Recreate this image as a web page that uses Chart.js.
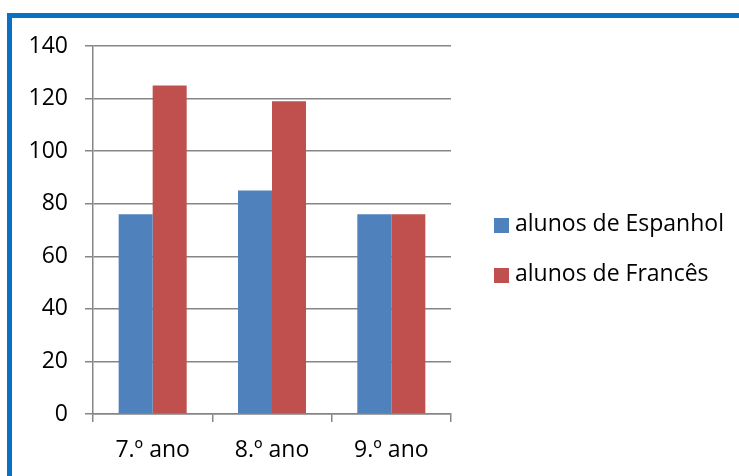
<!DOCTYPE html>
<html>
<head>
<meta charset="utf-8">
<script src="https://cdn.jsdelivr.net/npm/chart.js@4.4.1/dist/chart.umd.min.js"></script>
<style>
  html, body { margin: 0; padding: 0; background: #fff; overflow: hidden; }
  #wrap { position: relative; width: 739px; height: 476px; }
  #frame { position: absolute; left: 7px; top: 13px; width: 800px; height: 600px;
           border: 5px solid #0A70C4; box-sizing: border-box; }
  canvas { position: absolute; left: 0; top: 0; }
</style>
</head>
<body>
<div id="wrap">
  <div id="frame"></div>
  <canvas id="chart" width="739" height="476"></canvas>
</div>
<script>
const categories = ['7.º ano', '8.º ano', '9.º ano'];
const espanhol = [76, 85, 76];
const frances = [125, 119, 76];
const seriesNames = ['alunos de Espanhol', 'alunos de Francês'];
const yTicks = [0, 20, 40, 60, 80, 100, 120, 140];

const FONT = "'Open Sans', 'Liberation Sans', sans-serif";
const BLUE = '#4F81BD';
const RED = '#C0504D';
const GRID = '#868686';

// Legend drawn at the right side of the plot
const sideLegend = {
  id: 'sideLegend',
  afterDraw(chart) {
    const ctx = chart.ctx;
    const rows = [225, 275];
    ctx.save();
    ctx.font = '23px ' + FONT;
    ctx.textBaseline = 'middle';
    ctx.textAlign = 'left';
    chart.data.datasets.forEach((ds, i) => {
      const y = rows[i];
      ctx.fillStyle = ds.backgroundColor;
      ctx.fillRect(494, y - 7, 15, 15);
      ctx.fillStyle = '#000';
      ctx.fillText(ds.label, 515, y - 1);
    });
    ctx.restore();
  }
};

new Chart(document.getElementById('chart'), {
  type: 'bar',
  data: {
    labels: categories,
    datasets: [
      { label: seriesNames[0], data: espanhol, backgroundColor: BLUE, borderWidth: 0 },
      { label: seriesNames[1], data: frances, backgroundColor: RED, borderWidth: 0 }
    ]
  },
  options: {
    responsive: false,
    animation: false,
    events: [],
    layout: { padding: { top: 46, right: 288, left: 0, bottom: 0 } },
    datasets: { bar: { categoryPercentage: 0.57, barPercentage: 1.0 } },
    plugins: {
      legend: { display: false },
      tooltip: { enabled: false },
      title: { display: false }
    },
    scales: {
      x: {
        offset: true,
        grid: { offset: true, drawOnChartArea: false, drawTicks: true,
                tickLength: 8, color: GRID, lineWidth: 1.5 },
        border: { color: GRID, width: 1.5 },
        ticks: { color: '#000', font: { family: FONT, size: 23 }, padding: 15,
                 maxRotation: 0, autoSkip: false },
        afterFit(scale) { scale.height = 62; }
      },
      y: {
        min: 0,
        max: 140,
        afterBuildTicks(scale) { scale.ticks = yTicks.map(v => ({ value: v })); },
        grid: { color: GRID, lineWidth: 1.5, drawTicks: true, tickLength: 8 },
        border: { color: GRID, width: 1.5 },
        ticks: { color: '#000', font: { family: FONT, size: 23 }, padding: 17 },
        afterFit(scale) { scale.width = 93; }
      }
    }
  },
  plugins: [sideLegend]
});
</script>
</body>
</html>
